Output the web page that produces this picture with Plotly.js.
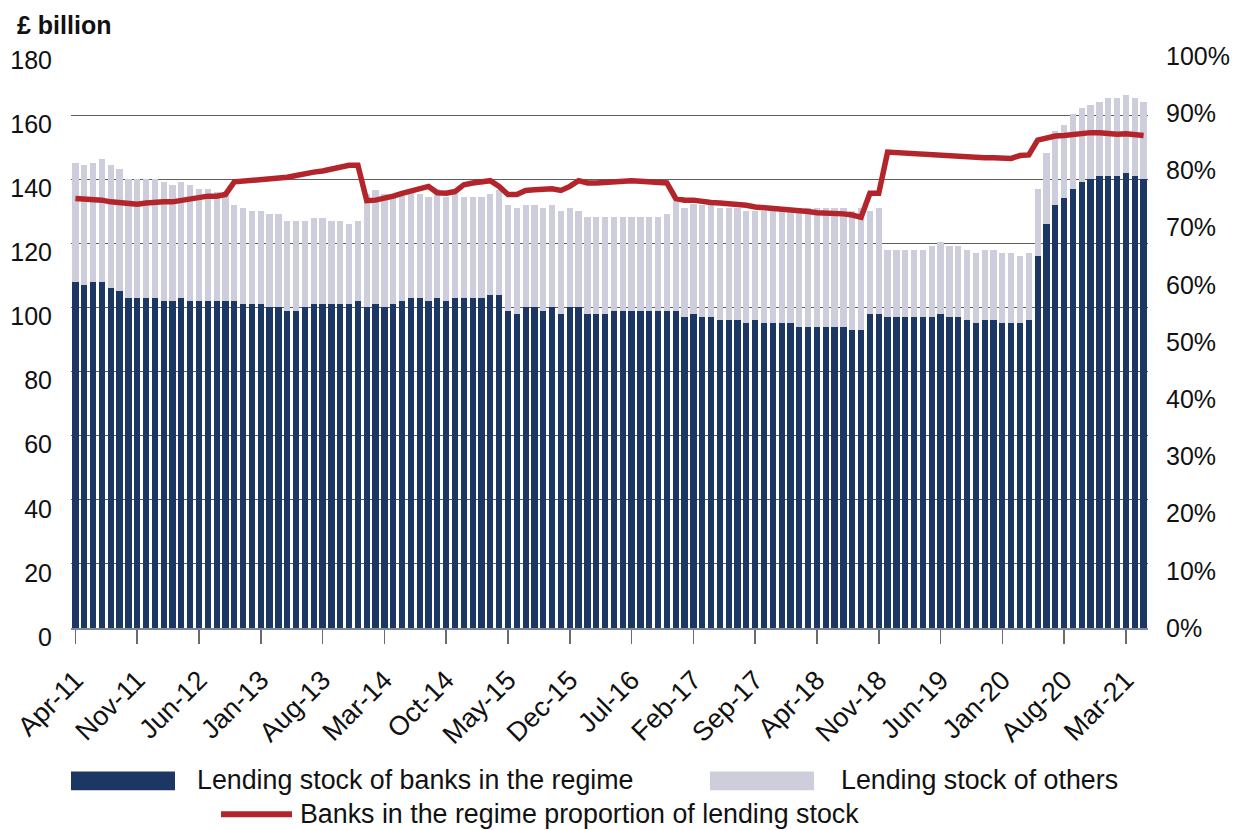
<!DOCTYPE html>
<html>
<head>
<meta charset="utf-8">
<script src="https://cdn.plot.ly/plotly-3.0.1.min.js"></script>
<style>html,body{margin:0;padding:0;background:#fff;}#chart{width:1246px;height:830px;}</style>
</head>
<body>
<div id="chart"></div>
<script>
const months = [
 'Apr-11','May-11','Jun-11','Jul-11','Aug-11','Sep-11','Oct-11','Nov-11','Dec-11',
 'Jan-12','Feb-12','Mar-12','Apr-12','May-12','Jun-12','Jul-12','Aug-12','Sep-12','Oct-12','Nov-12','Dec-12',
 'Jan-13','Feb-13','Mar-13','Apr-13','May-13','Jun-13','Jul-13','Aug-13','Sep-13','Oct-13','Nov-13','Dec-13',
 'Jan-14','Feb-14','Mar-14','Apr-14','May-14','Jun-14','Jul-14','Aug-14','Sep-14','Oct-14','Nov-14','Dec-14',
 'Jan-15','Feb-15','Mar-15','Apr-15','May-15','Jun-15','Jul-15','Aug-15','Sep-15','Oct-15','Nov-15','Dec-15',
 'Jan-16','Feb-16','Mar-16','Apr-16','May-16','Jun-16','Jul-16','Aug-16','Sep-16','Oct-16','Nov-16','Dec-16',
 'Jan-17','Feb-17','Mar-17','Apr-17','May-17','Jun-17','Jul-17','Aug-17','Sep-17','Oct-17','Nov-17','Dec-17',
 'Jan-18','Feb-18','Mar-18','Apr-18','May-18','Jun-18','Jul-18','Aug-18','Sep-18','Oct-18','Nov-18','Dec-18',
 'Jan-19','Feb-19','Mar-19','Apr-19','May-19','Jun-19','Jul-19','Aug-19','Sep-19','Oct-19','Nov-19','Dec-19',
 'Jan-20','Feb-20','Mar-20','Apr-20','May-20','Jun-20','Jul-20','Aug-20','Sep-20','Oct-20','Nov-20','Dec-20',
 'Jan-21','Feb-21','Mar-21','Apr-21','May-21'
];

// £ billion, lending stock of banks in the regime
const regimeStock = [
 108.0,107.1,108.0,108.0,106.1,105.2,103.0,103.0,103.0,
 103.0,102.1,102.1,103.0,102.1,102.1,102.1,102.1,102.1,102.1,101.1,101.1,
 101.1,100.2,100.2,98.9,98.9,100.2,101.1,101.1,101.1,101.1,101.1,102.1,
 100.2,101.1,100.2,101.1,102.1,103.0,103.0,102.1,103.0,102.1,103.0,103.0,
 103.0,103.0,104.0,104.0,98.9,98.0,100.2,100.2,98.9,100.2,98.0,100.2,
 100.2,98.0,98.0,98.0,98.9,98.9,98.9,98.9,98.9,98.9,98.9,98.9,
 97.1,98.0,97.1,97.1,96.2,96.2,96.2,95.2,96.2,95.2,95.2,95.2,
 95.2,94.0,94.0,94.0,94.0,94.0,94.0,93.0,93.0,98.0,98.0,97.1,
 97.1,97.1,97.1,97.1,97.1,98.0,97.1,97.1,96.2,95.2,96.2,96.2,
 95.2,95.2,95.2,96.2,116.1,126.1,132.0,134.2,137.0,139.2,140.1,141.1,
 141.1,141.1,142.0,141.1,140.1
];

// £ billion, lending stock of others
const othersStock = [
 37.2,37.2,37.2,38.3,38.2,38.0,37.1,37.1,37.1,
 37.1,37.1,36.1,36.2,36.1,34.9,34.9,34.0,33.9,29.9,30.0,29.0,
 29.0,29.0,29.0,28.1,28.1,26.8,26.9,26.9,25.9,25.9,25.0,24.9,
 35.3,35.4,35.3,33.9,33.4,33.5,32.5,32.4,34.0,32.4,32.5,31.5,
 31.5,31.5,31.5,32.5,33.1,33.0,31.8,31.8,32.1,31.8,32.0,30.8,
 29.8,30.3,30.3,30.3,29.4,29.4,29.4,29.4,29.4,29.4,30.3,34.3,
 34.0,34.3,34.9,34.9,34.9,34.9,34.9,34.9,33.9,34.9,34.9,34.9,
 34.9,36.1,37.1,37.1,37.1,37.1,37.1,37.1,38.1,32.1,33.1,20.9,
 20.9,20.9,20.9,20.9,22.1,22.4,22.1,22.1,21.8,21.9,21.8,21.8,
 21.9,21.9,20.9,20.9,20.9,22.1,23.1,22.7,23.2,23.0,23.1,23.0,
 24.3,24.3,24.3,24.3,24.0
];

// %, banks in the regime proportion of lending stock
const regimeShare = [
 75.1,75.0,75.0,74.8,74.5,74.4,74.3,74.1,74.3,
 74.5,74.5,74.5,74.8,75.0,75.2,75.5,75.5,75.8,78.0,78.1,78.2,
 78.3,78.5,78.6,78.8,79.1,79.5,79.7,79.9,80.3,80.7,80.9,80.9,
 74.7,74.8,75.1,75.5,76.0,76.4,76.9,77.2,76.1,76.0,76.3,77.5,
 77.8,77.9,78.2,77.2,75.8,75.8,76.5,76.6,76.7,76.8,76.5,77.2,
 78.2,77.8,77.8,77.9,78.0,78.2,78.2,78.1,78.0,77.9,77.8,75.1,
 74.8,74.8,74.5,74.4,74.3,74.2,74.0,73.9,73.6,73.5,73.3,73.3,
 73.2,73.0,72.8,72.6,72.6,72.5,72.4,72.2,71.8,76.0,76.0,83.2,
 83.1,83.0,82.9,82.9,82.8,82.7,82.6,82.5,82.2,82.1,82.2,82.2,
 82.2,82.1,82.6,82.7,85.3,85.7,86.0,86.1,86.3,86.5,86.6,86.6,
 86.4,86.3,86.4,86.3,86.1
];

const tickMonths = ['Apr-11','Nov-11','Jun-12','Jan-13','Aug-13','Mar-14','Oct-14','May-15','Dec-15',
 'Jul-16','Feb-17','Sep-17','Apr-18','Nov-18','Jun-19','Jan-20','Aug-20','Mar-21'];
const leftTicks = [0,20,40,60,80,100,120,140,160,180];
const rightTicks = [0,10,20,30,40,50,60,70,80,90,100];
const rightTickText = ['0%','10%','20%','30%','40%','50%','60%','70%','80%','90%','100%'];

const seriesNames = ['Lending stock of banks in the regime','Lending stock of others',
 'Banks in the regime proportion of lending stock'];

const navy = '#1c3764', lilac = '#cdcddb', red = '#b3252b';
const FONT = 'Liberation Sans, Arial, Helvetica, sans-serif';

const traces = [
 {type:'bar', x:months, y:regimeStock, name:seriesNames[0], marker:{color:navy}, yaxis:'y'},
 {type:'bar', x:months, y:othersStock, name:seriesNames[1], marker:{color:lilac}, yaxis:'y'},
 {type:'scatter', mode:'lines', x:months, y:regimeShare, name:seriesNames[2],
  line:{color:red, width:5.5}, yaxis:'y2'}
];

// plot area: x 71..1148, y 51..628.5
const L = 71, R = 1148, T = 51, B = 628.5;
const px = v => (v - L) / (R - L);
const py = v => (B - v) / (B - T);

const layout = {
 width:1246, height:830,
 margin:{l:L, r:1246-R, t:T, b:830-B, pad:0},
 paper_bgcolor:'#ffffff', plot_bgcolor:'#ffffff',
 font:{family:FONT, size:25, color:'#111'},
 barmode:'stack', bargap:0.29,
 showlegend:false,
 xaxis:{type:'category', range:[-0.5, months.length-0.5],
  tickmode:'array', tickvals:tickMonths, ticktext:tickMonths, tickangle:-45,
  ticks:'outside', ticklen:14, tickwidth:1.5, tickcolor:'#6b6b6b',
  ticklabelstandoff:10,
  showline:true, linecolor:'#7d8796', linewidth:1.5, showgrid:false, zeroline:false,
  tickfont:{family:FONT, size:27, color:'#111'}},
 yaxis:{range:[0,180], tickmode:'array', tickvals:leftTicks, ticks:'',
  showgrid:true, gridcolor:'#5e5e5e', gridwidth:1.2, zeroline:false, showline:false,
  ticklabelstandoff:18, ticklabelshift:9,
  tickfont:{family:FONT, size:25, color:'#111'}},
 yaxis2:{overlaying:'y', side:'right', range:[0, (B-T)/5.725],
  tickmode:'array', tickvals:rightTicks, ticktext:rightTickText, ticks:'',
  showgrid:false, zeroline:false, showline:false, ticklabelstandoff:17,
  tickfont:{family:FONT, size:25, color:'#111'}},
 annotations:[
  {xref:'paper', yref:'paper', x:px(15), y:py(25), xanchor:'left', yanchor:'middle',
   text:'<b>£ billion</b>', showarrow:false, font:{family:FONT, size:25, color:'#111'}},
  {xref:'paper', yref:'paper', x:px(195), y:py(781), xanchor:'left', yanchor:'middle',
   text:seriesNames[0], showarrow:false, font:{family:FONT, size:26.8, color:'#111'}},
  {xref:'paper', yref:'paper', x:px(839), y:py(781), xanchor:'left', yanchor:'middle',
   text:seriesNames[1], showarrow:false, font:{family:FONT, size:26.8, color:'#111'}},
  {xref:'paper', yref:'paper', x:px(298), y:py(815), xanchor:'left', yanchor:'middle',
   text:seriesNames[2], showarrow:false, font:{family:FONT, size:26.8, color:'#111'}}
 ],
 shapes:[
  {type:'rect', xref:'paper', yref:'paper', x0:px(71), x1:px(175), y0:py(772), y1:py(791),
   fillcolor:navy, line:{width:0}},
  {type:'rect', xref:'paper', yref:'paper', x0:px(710), x1:px(814), y0:py(772), y1:py(791),
   fillcolor:lilac, line:{width:0}},
  {type:'line', xref:'paper', yref:'paper', x0:px(221), x1:px(292), y0:py(815), y1:py(815),
   line:{color:red, width:6}}
 ]
};

Plotly.newPlot('chart', traces, layout, {staticPlot:true, displayModeBar:false});
</script>
</body>
</html>
